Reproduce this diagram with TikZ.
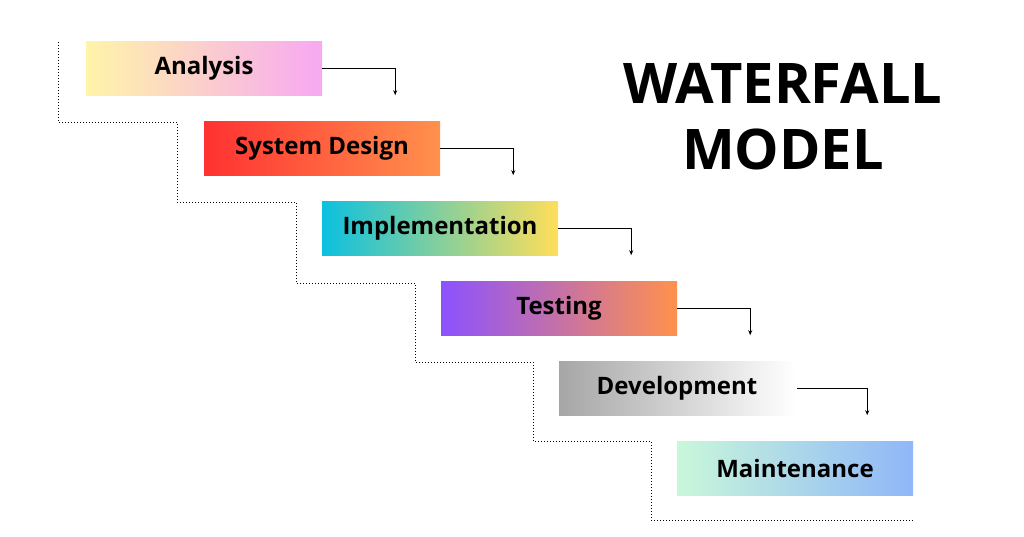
\documentclass[tikz,border=0pt]{standalone}
\usepackage{fontspec}
\usetikzlibrary{arrows.meta}
\setmainfont{Open Sans}
\definecolor{cyellow}{HTML}{FFF4A8}
\definecolor{cpink}{HTML}{F7A8F2}
\definecolor{cred}{HTML}{FF3131}
\definecolor{corange}{HTML}{FF914D}
\definecolor{ccyan}{HTML}{0CC0DF}
\definecolor{cgold}{HTML}{FFDE59}
\definecolor{cpurple}{HTML}{8C52FF}
\definecolor{cgray}{HTML}{A6A6A6}
\definecolor{cmint}{HTML}{C9F7DA}
\definecolor{cblue}{HTML}{8FB7F9}
\begin{document}
\begin{tikzpicture}[x=1pt,y=-1pt]
    \tikzstyle{phase}=[minimum width=236pt, minimum height=54pt, inner sep=0pt,
        font=\fontsize{24}{28}\selectfont\bfseries]
    \tikzstyle{flow}=[-{Stealth[length=5pt,width=4pt]}, line width=0.8pt]
    \useasboundingbox (0,0) rectangle (1024,536);
    \fill[white] (0,0) rectangle (1024,536);
    \node [phase, left color=cyellow, right color=cpink] (ana) at (204,68) {Analysis};
    \node [phase, left color=cred, right color=corange] (sys) at (322,148) {System Design};
    \node [phase, left color=ccyan, right color=cgold] (imp) at (440,228) {Implementation};
    \node [phase, left color=cpurple, right color=corange] (tes) at (559,308) {Testing};
    \node [phase, left color=cgray, right color=white] (dev) at (677,388) {Development};
    \node [phase, left color=cmint, right color=cblue] (mai) at (795,468) {Maintenance};
    \node [font=\fontsize{56}{60}\selectfont\bfseries, align=center] (title) at (783,117)
        {WATERFALL\\[6pt]MODEL};
    % arrows between phases
    \draw [flow] (ana.east) -| ([xshift=73pt]ana.east |- ana.south);
    \draw [flow] (sys.east) -| ([xshift=73pt]sys.east |- sys.south);
    \draw [flow] (imp.east) -| ([xshift=73pt]imp.east |- imp.south);
    \draw [flow] (tes.east) -| ([xshift=73pt]tes.east |- tes.south);
    \draw [flow] ([xshift=2pt]dev.east) -| ([xshift=72pt]dev.east |- dev.south);
    % staircase
    \draw [dotted, line width=1pt] (58,42) -- (58,122) -- (177,122) -- (177,202)
        -- (296,202) -- (296,283) -- (415,283) -- (415,362) -- (533,362)
        -- (533,441) -- (651,441) -- (651,520) -- (913,520);
\end{tikzpicture}
\end{document}
